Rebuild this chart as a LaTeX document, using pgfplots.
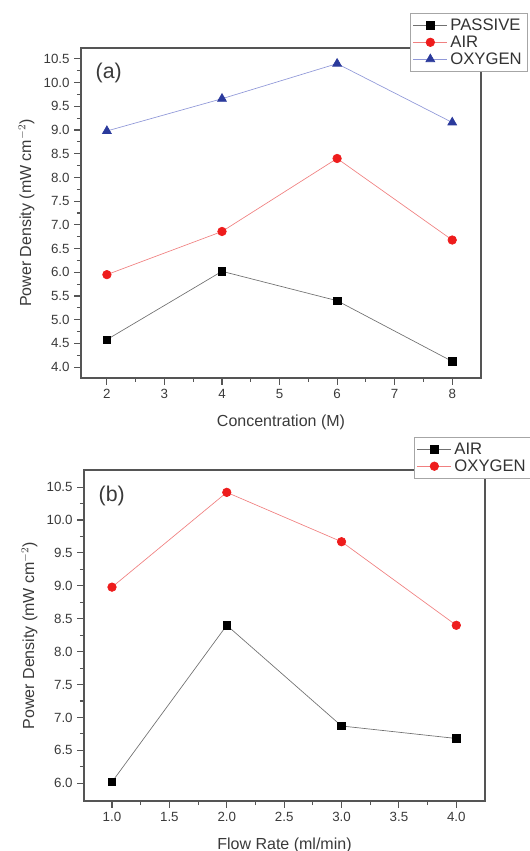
\documentclass[border=0pt]{standalone}
\usepackage{pgfplots}
\pgfplotsset{compat=1.18}
\usepackage{fontspec}
\setmainfont{Liberation Sans}
\definecolor{txt}{HTML}{3A3A3A}
\definecolor{axc}{HTML}{555555}
\definecolor{lblack}{HTML}{707070}
\definecolor{lred}{HTML}{F08080}
\definecolor{mred}{HTML}{EE1C1C}
\definecolor{lblue}{HTML}{9098D8}
\definecolor{mblue}{HTML}{2B3A9C}
\pgfplotsset{
  myax/.style={
    scale only axis,
    axis line style={axc, line width=0.9pt},
    tick style={axc, line width=0.8pt},
    major tick length=5pt, minor tick length=3pt,
    tick align=outside,
    xtick pos=bottom, ytick pos=left,
    minor x tick num=1, minor y tick num=1,
    /pgf/number format/assume math mode=true,
    /pgf/number format/fixed,
    ticklabel style={font=\fontsize{10}{12}\selectfont, text=txt},
    label style={font=\fontsize{12}{14}\selectfont, text=txt},
    legend style={draw=gray!70, fill=white, font=\fontsize{12.5}{14}\selectfont, text=black!80,
      inner sep=2pt, row sep=-1.5pt, anchor=north west, cells={anchor=west}},
    legend image code/.code={\draw[mark repeat=2,mark phase=2] plot coordinates {(0cm,0cm) (0.45cm,0cm) (0.9cm,0cm)};},
  }
}
\begin{document}
\begin{tikzpicture}
\useasboundingbox (0pt,0pt) rectangle (397.5pt,638.25pt);
% top panel
\begin{axis}[myax,
  at={(60.75pt,354.75pt)}, anchor=south west,
  width=300pt, height=247.5pt,
  xmin=1.55, xmax=8.5, ymin=3.77, ymax=10.73,
  xtick={2,3,4,5,6,7,8},
  ytick={4.0,4.5,5.0,5.5,6.0,6.5,7.0,7.5,8.0,8.5,9.0,9.5,10.0,10.5},
  yticklabel style={/pgf/number format/precision=1, /pgf/number format/fixed zerofill},
  xlabel={Concentration (M)},
  ylabel={Power Density (mW cm$^{-2}$)},
  xlabel style={yshift=-5pt},
  legend style={at={(0.8225,1.106)}},
]
\addplot[color=lblack, line width=0.5pt, mark=square*, mark size=2.8pt, mark options={black, fill=black, solid}]
 coordinates {(2,4.58) (4,6.02) (6,5.40) (8,4.12)};
\addlegendentry{PASSIVE}
\addplot[color=lred, line width=0.5pt, mark=*, mark size=3.2pt, mark options={mred, fill=mred, solid}]
 coordinates {(2,5.95) (4,6.86) (6,8.40) (8,6.68)};
\addlegendentry{AIR}
\addplot[color=lblue, line width=0.5pt, mark=triangle*, mark size=3.8pt, mark options={mblue, fill=mblue, solid}]
 coordinates {(2,8.98) (4,9.66) (6,10.40) (8,9.16)};
\addlegendentry{OXYGEN}
\node[anchor=west, font=\fontsize{16}{18}\selectfont, text=txt] at (rel axis cs:0.025,0.925) {(a)};
\end{axis}
% bottom panel
\begin{axis}[myax,
  at={(63pt,37.5pt)}, anchor=south west,
  width=300.75pt, height=248.25pt,
  xmin=0.756, xmax=4.25, ymin=5.73, ymax=10.76,
  xtick={1.0,1.5,2.0,2.5,3.0,3.5,4.0},
  ytick={6.0,6.5,7.0,7.5,8.0,8.5,9.0,9.5,10.0,10.5},
  /pgf/number format/precision=1, /pgf/number format/fixed zerofill,
  xlabel={Flow Rate (ml/min)},
  ylabel={Power Density (mW cm$^{-2}$)},
  xlabel style={yshift=-5pt},
  legend style={at={(0.823,1.0997)}},
]
\addplot[color=lblack, line width=0.5pt, mark=square*, mark size=2.8pt, mark options={black, fill=black, solid}]
 coordinates {(1,6.02) (2,8.40) (3,6.87) (4,6.68)};
\addlegendentry{AIR}
\addplot[color=lred, line width=0.5pt, mark=*, mark size=3.2pt, mark options={mred, fill=mred, solid}]
 coordinates {(1,8.98) (2,10.42) (3,9.67) (4,8.40)};
\addlegendentry{OXYGEN}
\node[anchor=west, font=\fontsize{16}{18}\selectfont, text=txt] at (rel axis cs:0.025,0.92) {(b)};
\end{axis}
\end{tikzpicture}
\end{document}
